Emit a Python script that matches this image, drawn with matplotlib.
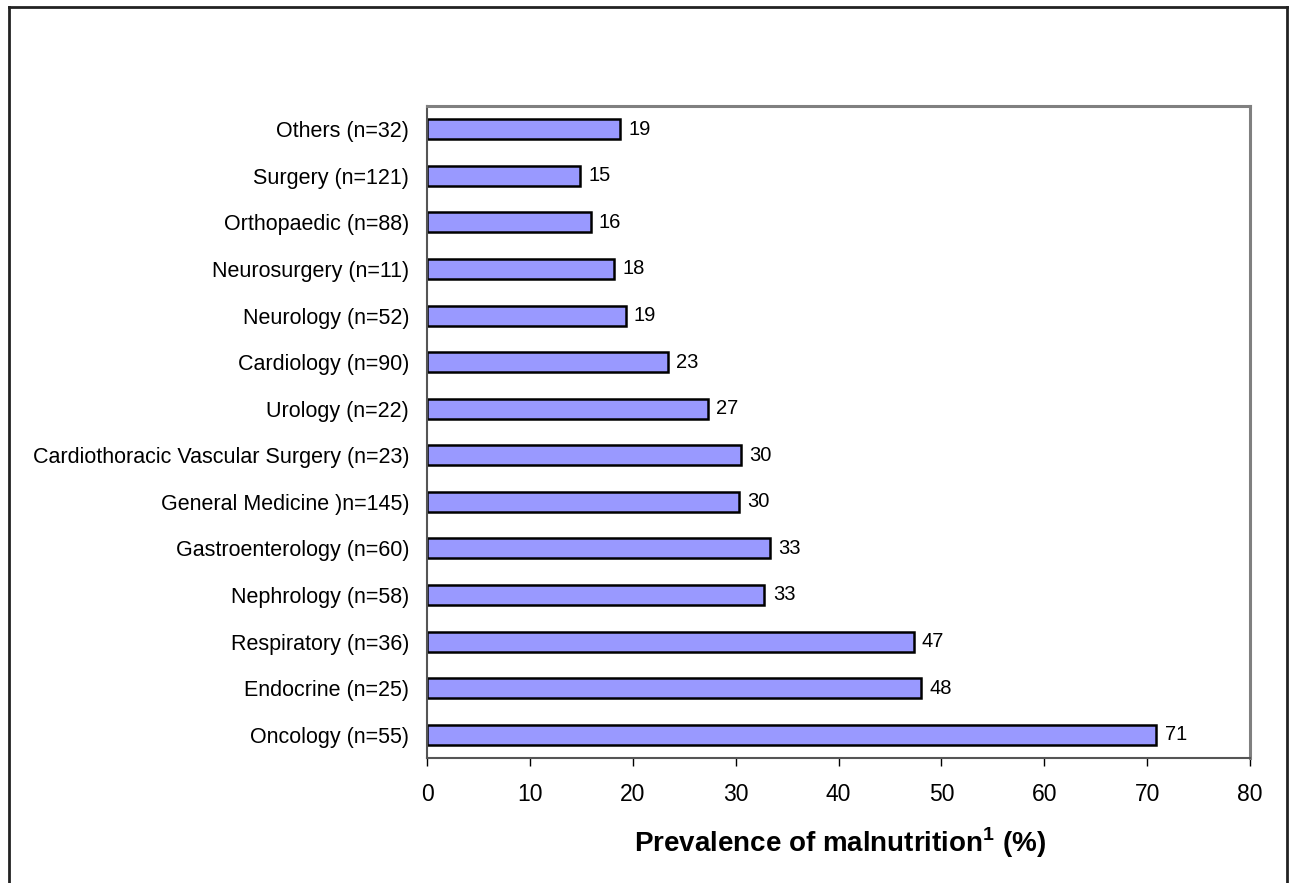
import matplotlib
matplotlib.use('Agg')
import matplotlib.pyplot as plt
from matplotlib.lines import Line2D
import numpy as np

# --- data (bottom to top) ---
categories = ['Oncology (n=55)', 'Endocrine (n=25)', 'Respiratory (n=36)',
              'Nephrology (n=58)', 'Gastroenterology (n=60)', 'General Medicine )n=145)',
              'Cardiothoracic Vascular Surgery (n=23)', 'Urology (n=22)',
              'Cardiology (n=90)', 'Neurology (n=52)', 'Neurosurgery (n=11)',
              'Orthopaedic (n=88)', 'Surgery (n=121)', 'Others (n=32)']
values = [70.9, 48.0, 47.3, 32.8, 33.3, 30.3, 30.5, 27.3, 23.4, 19.3, 18.2, 15.9, 14.9, 18.8]
value_labels = ['71', '48', '47', '33', '33', '30', '30', '27', '23', '19', '18', '16', '15', '19']
x_ticks = [0, 10, 20, 30, 40, 50, 60, 70, 80]

plt.rcParams['font.family'] = ['Liberation Sans', 'DejaVu Sans']
plt.rcParams['mathtext.fontset'] = 'custom'
plt.rcParams['mathtext.bf'] = 'Liberation Sans:bold'
plt.rcParams['mathtext.rm'] = 'Liberation Sans'

fig = plt.figure(figsize=(12.91, 8.83), dpi=100)
ax = fig.add_axes([0.3308, 0.1416, 0.6375, 0.7384])

y = np.arange(len(categories))
ax.barh(y, values, height=0.43, color='#9999FF', edgecolor='black', linewidth=1.8)
for yi, v, lab in zip(y, values, value_labels):
    ax.text(v + 0.8, yi, lab, va='center', ha='left', fontsize=14.5)

ax.set_xlim(0, 80)
ax.set_ylim(-0.5, len(categories) - 0.5)
ax.set_xticks(x_ticks)
ax.set_xticklabels([str(t) for t in x_ticks], fontsize=16.5)
ax.set_yticks(y)
ax.set_yticklabels(categories, fontsize=15.5)
ax.tick_params(axis='y', length=0, pad=13)
ax.tick_params(axis='x', direction='out', length=6, width=1, color='black', pad=12)

for side in ['top', 'right']:
    ax.spines[side].set_color('#808080')
    ax.spines[side].set_linewidth(2.2)
ax.spines['left'].set_color('#555555')
ax.spines['left'].set_linewidth(1.5)
ax.spines['bottom'].set_color('#555555')
ax.spines['bottom'].set_linewidth(1.5)

ax.set_xlabel(r'Prevalence of malnutrition$^{\bf 1}$ (%)', fontsize=20,
              fontweight='bold')
ax.xaxis.set_label_coords(0.502, -0.130)
ax.xaxis.label.set_verticalalignment('center')

# outer chart border (bottom edge cut off)
border = dict(color='#222222', linewidth=2, transform=fig.transFigure)
fig.add_artist(Line2D([9 / 1291, 9 / 1291], [0, 1 - 7 / 883], **border))
fig.add_artist(Line2D([9 / 1291, 1287 / 1291], [1 - 7 / 883, 1 - 7 / 883], **border))
fig.add_artist(Line2D([1287 / 1291, 1287 / 1291], [0, 1 - 7 / 883], **border))

fig.savefig('out.png', dpi=100)
